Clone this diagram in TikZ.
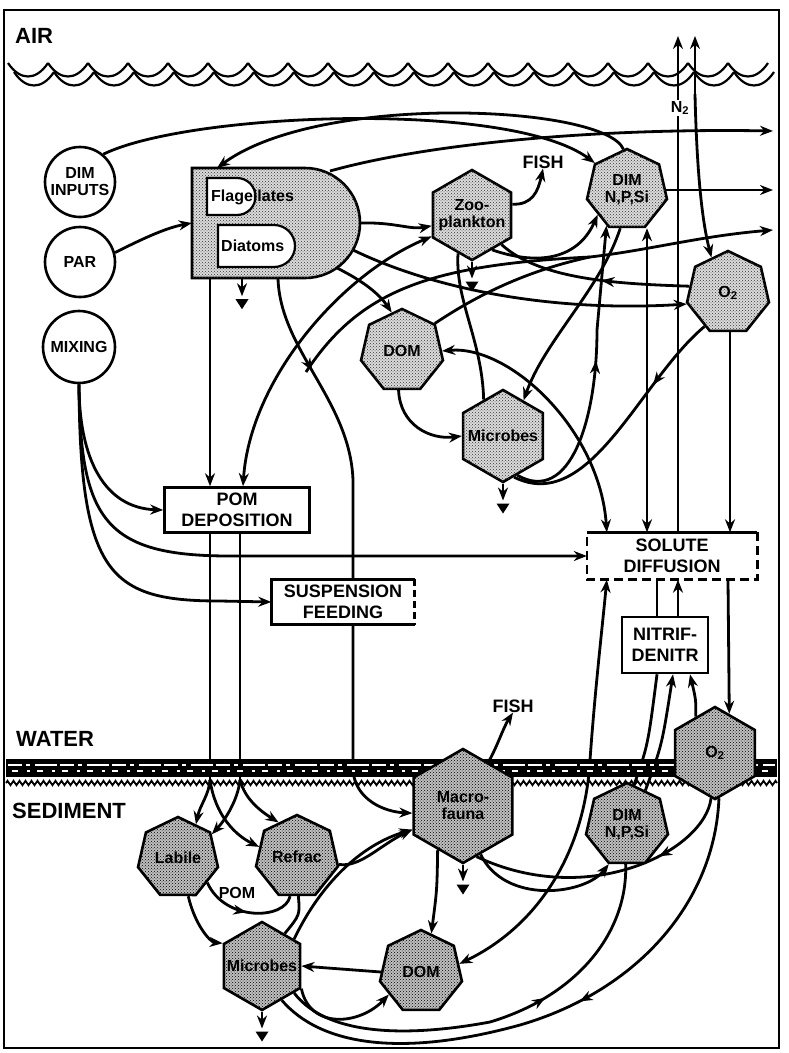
\documentclass[tikz,border=0pt]{standalone}
\usepackage{fontspec}
\setmainfont{Liberation Sans}
\usetikzlibrary{shapes.geometric,patterns,arrows.meta,decorations.markings,decorations.pathmorphing,calc}
\pgfdeclarelayer{conn}
\pgfdeclarelayer{band}
\pgfsetlayers{conn,band,main}
\newcommand\sinktri[1]{\fill ($(#1)+(-6.5,3)$) -- ($(#1)+(6.5,3)$) -- ($(#1)+(0,13)$) -- cycle;}
\begin{document}
\begin{tikzpicture}[x=1pt,y=-1pt,
  con/.style={line width=2.8pt},
  arr/.style={con,-{Stealth[length=13pt,width=10pt]}},
  darr/.style={con,{Stealth[length=13pt,width=10pt]}-{Stealth[length=13pt,width=10pt]}},
  midarr/.style={postaction={decorate,decoration={markings,mark=at position #1 with {\arrow{Stealth[length=13pt,width=10pt]}}}}},
  txt/.style={font=\fontsize{16}{17}\selectfont\bfseries, align=center, inner sep=0pt},
  wfill/.style={draw, line width=2.6pt, fill=gray!28, postaction={pattern=crosshatch dots, pattern color=black!80}},
  sfill/.style={draw, line width=2.6pt, fill=gray!50, postaction={pattern=crosshatch dots, pattern color=black}},
  circ/.style={circle, draw, line width=2.6pt, fill=white, minimum size=70pt, txt},
  hexa/.style={regular polygon, regular polygon sides=6, shape border rotate=30, inner sep=0pt},
  hept/.style={regular polygon, regular polygon sides=7, inner sep=0pt},
  bx/.style={rectangle, txt, font=\fontsize{18}{21}\selectfont\bfseries, fill=white},
  big/.style={font=\fontsize{22}{24}\selectfont\bfseries, inner sep=0pt, anchor=west},
]
\useasboundingbox (0,0) rectangle (788,1053);
\draw[line width=2.8pt] (4,10) rectangle (779,1048);
\node[big] (air) at (15,36) {AIR};
\node[big] (water) at (16,739) {WATER};
\node[big] (sed) at (12,811) {SEDIMENT};

% waves
\foreach \i in {0,...,18} {
  \draw[line width=2.2pt] (8+40*\i,63) .. controls (20+40*\i,81) and (36+40*\i,81) .. (48+40*\i,63);
  \draw[line width=2.2pt] (14+40*\i,72) .. controls (26+40*\i,90) and (42+40*\i,90) .. (54+40*\i,72);
}

% water column nodes
\node[circ] (dimin) at (80,182) {DIM\\INPUTS};
\node[circ] (par) at (80,262) {PAR};
\node[circ,minimum size=72pt] (mix) at (79,347) {MIXING};

\node[minimum width=168pt, minimum height=110pt, inner sep=0pt] (phyto) at (276,223) {};
\draw[line width=2.6pt, fill=gray!28, postaction={pattern=crosshatch dots, pattern color=black!80}] (192,168) -- (305,168) arc (-90:90:55) -- (192,278) -- cycle;
\draw[line width=2.2pt, fill=white] (207,178) -- (237,178) arc (-90:90:18.5) -- (207,215) -- cycle;
\draw[line width=2.2pt, fill=white] (218,225) -- (274,225) arc (-90:90:21) -- (218,267) -- cycle;
\node[txt, anchor=west] (flag) at (211,197) {Flagellates};
\node[txt, anchor=west] (diat) at (221,246) {Diatoms};

\node[hexa, wfill, minimum size=90pt, label={[txt]center:Zoo-\\plankton}] (zoo) at (472,215) {};
\node[hept, wfill, minimum size=82pt, label={[txt]center:DIM\\N,P,Si}] (dimw) at (627,190) {};
\node[hept, wfill, minimum size=84pt, label={[txt]center:O\textsubscript{2}}] (o2w) at (728,293) {};
\node[hept, wfill, minimum size=84pt, label={[txt]center:DOM}] (domw) at (402,351) {};
\node[hexa, wfill, minimum size=92pt, label={[txt]center:Microbes}] (micw) at (503,436) {};
\node[txt, font=\fontsize{18}{19}\selectfont\bfseries] (fish) at (543,162) {FISH};
\node[txt, fill=white, inner sep=1.5pt] (n2) at (680,108) {N\textsubscript{2}};

\node[bx, draw, line width=2.6pt, minimum width=145pt, minimum height=45pt] (pom) at (237,510) {POM\\DEPOSITION};
\node[bx, minimum width=143pt, minimum height=45pt] (susp) at (343,602) {SUSPENSION\\FEEDING};
\node[bx, minimum width=170pt, minimum height=47pt] (solute) at (672,556) {SOLUTE\\DIFFUSION};
\node[bx, draw, line width=2.6pt, minimum width=86pt, minimum height=56pt] (nitrif) at (665,645) {NITRIF-\\DENITR};
\draw[line width=2.6pt] (susp.south east) -- (susp.south west) -- (susp.north west) -- (susp.north east);
\draw[line width=2.6pt, dash pattern=on 7pt off 4pt] (susp.north east) -- (susp.south east);
\draw[line width=2.6pt] (solute.north west) -- (solute.north east);
\draw[line width=2.6pt, dash pattern=on 9pt off 5pt] (solute.north east) -- (solute.south east) -- (solute.south west) -- (solute.north west);

% sediment nodes
\node[hept, sfill, minimum size=82pt, label={[txt]center:Labile}] (lab) at (178,858) {};
\node[hept, sfill, minimum size=84pt, label={[txt]center:Refrac}] (ref) at (297,857) {};
\node[hexa, sfill, minimum size=114pt, label={[txt]center:Macro-\\fauna}] (mac) at (463,806) {};
\node[hexa, sfill, minimum size=88pt, label={[txt]center:Microbes}] (mics) at (262,966) {};
\node[hept, sfill, minimum size=84pt, label={[txt]center:DOM}] (doms) at (421,972) {};
\node[hept, sfill, minimum size=84pt, label={[txt]center:DIM\\N,P,Si}] (dims) at (627,825) {};
\node[hexa, sfill, minimum size=92pt, label={[txt]center:O\textsubscript{2}}] (o2s) at (715,753) {};
\node[txt, font=\fontsize{18}{19}\selectfont\bfseries] (fish2) at (513,706) {FISH};
\node[txt] (pomlbl) at (237,893) {POM};

\coordinate (ex1) at (773,131);
\coordinate (ex2) at (773,190);
\coordinate (ex3) at (773,230);
\coordinate (phTL) at (217,168);
\coordinate (phTR) at (330,171);
\coordinate (phR1) at (337,268);
\coordinate (phR2) at (353,250);
\coordinate (n2top) at (678,36);
\coordinate (o2air) at (695,36);
\coordinate (o2surf) at (695,94);
\coordinate (merge) at (306,372);

\begin{pgfonlayer}{band}
\fill (6,759) rectangle (777,777);
\draw[white, line width=2.4pt, dash pattern=on 14pt off 4pt on 4pt off 5pt on 22pt off 3pt] (8,765) -- (775,765);
\draw[white, line width=1.6pt, dash pattern=on 6pt off 9pt on 3pt off 7pt] (12,771) -- (775,771);
\draw[line width=1.8pt, decorate, decoration={zigzag, segment length=6pt, amplitude=2.2pt}] (6,783) -- (777,783);
\end{pgfonlayer}

\begin{pgfonlayer}{conn}
\draw[arr] (dimin.50) .. controls (190,112) and (510,100) .. (dimw.140);
\draw[arr] (dimw.95) .. controls (605,105) and (320,92) .. (phTL);
\draw[arr] (phTR) .. controls (430,143) and (600,128) .. (ex1);
\draw[arr] (par.15) .. controls (140,240) and (165,228) .. (phyto.west);
\draw[arr] (phyto.east) .. controls (395,222) and (410,230) .. (zoo.195);
\draw[arr] (zoo.15) .. controls (532,205) and (538,192) .. (fish.south);
\draw[arr] (dimw.east) -- (ex2);
\draw[con] (domw.40) .. controls (470,300) and (520,272) .. (590,257);
\draw[arr] (merge) .. controls (360,290) and (430,265) .. (590,257) .. controls (650,250) and (700,236) .. (ex3);
\draw[arr] (phR1) .. controls (365,282) and (380,295) .. (domw.105);
\draw[arr] (phR2) .. controls (440,292) and (560,312) .. (o2w.195);
\draw[con, midarr=0.45] (o2w.170) .. controls (620,284) and (540,280) .. (zoo.-45);
\draw[arr] (zoo.-60) .. controls (545,268) and (580,255) .. (dimw.-140);
\draw[arr, midarr=0.55] (micw.-70) .. controls (570,505) and (597,420) .. (597,330) -- (dimw.-120);
\draw[arr] (dimw.-100) .. controls (600,290) and (545,340) .. (micw.60);
\draw[darr] (domw.east) .. controls (510,345) and (600,430) .. ([xshift=20pt]solute.north west);
\draw[con, midarr=0.3] (o2w.-125) .. controls (640,380) and (590,515) .. (micw.-75);
\draw[darr] ([xshift=20pt]dimw.south) -- ([xshift=20pt]dimw.south |- solute.north);
\draw[arr] ([xshift=2pt]o2w.south) -- ([xshift=2pt]o2w.south |- solute.north);
\draw[arr] ([xshift=6pt]solute.north) -- (n2top);
\draw[arr] (o2surf) -- (o2air);
\draw[arr] (o2surf) .. controls (697,180) and (703,225) .. (o2w.115);
\draw[arr] ([xshift=-66pt]phyto.south) -- ([xshift=-66pt]phyto.south |- pom.north);
\draw[arr] ([xshift=-34pt]phyto.south) -- ++(0,18) coordinate (ps1);
\draw[arr, midarr=0.17] ([xshift=2pt]phyto.south) .. controls (280,350) and (350,400) .. (353,480) -- (353,770) .. controls (355,800) and (385,812) .. (mac.188);
\draw[darr] (zoo.208) .. controls (340,275) and (250,380) .. ([xshift=6pt]pom.north);
\draw[con] (zoo.-110) .. controls (455,300) and (482,340) .. (micw.118);
\draw[arr] (zoo.south) -- ++(0,17) coordinate (zs);
\draw[arr] (domw.-95) .. controls (400,425) and (430,440) .. (micw.west);
\draw[arr] (micw.south) -- ++(0,17) coordinate (mws);
\draw[arr] (mix.south) .. controls (79,460) and (105,508) .. (pom.west);
\draw[arr] (mix.south) .. controls (80,520) and (105,556) .. (230,556) -- (solute.west);
\draw[arr] (mix.south) .. controls (80,575) and (110,601) .. (220,601) -- (susp.west);
\draw[con] ([xshift=-27pt]pom.south) -- ++(0,246) coordinate (pd1);
\draw[con] ([xshift=3pt]pom.south) -- ++(0,246) coordinate (pd2);
\draw[arr] (pd1) .. controls (209,795) and (200,805) .. (lab.62);
\draw[arr] (pd1) .. controls (215,815) and (235,835) .. (ref.165);
\draw[arr] (pd2) .. controls (238,800) and (225,820) .. (lab.35);
\draw[arr] (pd2) .. controls (245,800) and (262,812) .. (ref.118);
% sediment
\draw[arr] (lab.-75) .. controls (195,925) and (210,942) .. (mics.150);
\draw[con, midarr=0.5] (lab.-40) .. controls (225,922) and (285,920) .. (ref.-100);
\draw[con] (ref.-88) .. controls (300,915) .. (mics.55);
\draw[arr] (ref.-10) .. controls (360,868) and (380,845) .. (mac.205);
\draw[arr] (mics.40) .. controls (320,885) and (360,845) .. (mac.205);
\draw[arr] (mac.-120) .. controls (437,890) .. (doms.75);
\draw[arr] (mac.south) -- ++(0,17) coordinate (ms);
\draw[arr] (mac.-70) .. controls (505,905) and (585,895) .. (dims.-115);
\draw[con, midarr=0.3] (o2s.-95) .. controls (705,850) and (590,910) .. (mac.-75);
\draw[con, midarr=0.45] (o2s.-85) .. controls (715,900) and (640,990) .. (520,1025) .. controls (400,1058) and (320,1045) .. (mics.-60);
\draw[con, midarr=0.62] (mics.-40) .. controls (330,1040) and (420,1035) .. (490,1022) .. controls (580,995) and (628,930) .. (dims.-92);
\draw[arr] (doms.west) -- (mics.east);
\draw[arr] (mics.-30) .. controls (310,1030) and (360,1025) .. (doms.-145);
\draw[arr] (mics.south) -- ++(0,17) coordinate (mss);
\draw[darr] (doms.12) .. controls (540,925) and (585,850) .. (590,760) .. controls (595,690) and (602,630) .. ([xshift=20pt]solute.south west);
\draw[arr] (dims.62) .. controls (662,745) .. ([xshift=8pt]nitrif.south);
\draw[con] (dims.80) .. controls (648,745) .. ([xshift=-8pt]nitrif.south);
\draw[arr] (o2s.118) .. controls (696,700) .. ([xshift=25pt]nitrif.south);
\draw[con] ([xshift=-8pt]nitrif.north) -- ([xshift=-8pt]nitrif.north |- solute.south);
\draw[arr] ([xshift=13pt]nitrif.north) -- ([xshift=13pt]nitrif.north |- solute.south);
\draw[arr] ([xshift=56pt]solute.south) -- (o2s.70);
\draw[arr] (mac.60) .. controls (498,745) and (503,728) .. (fish2.south);
\sinktri{ps1}
\sinktri{zs}
\sinktri{mws}
\sinktri{ms}
\sinktri{mss}
\end{pgfonlayer}
\end{tikzpicture}
\end{document}
